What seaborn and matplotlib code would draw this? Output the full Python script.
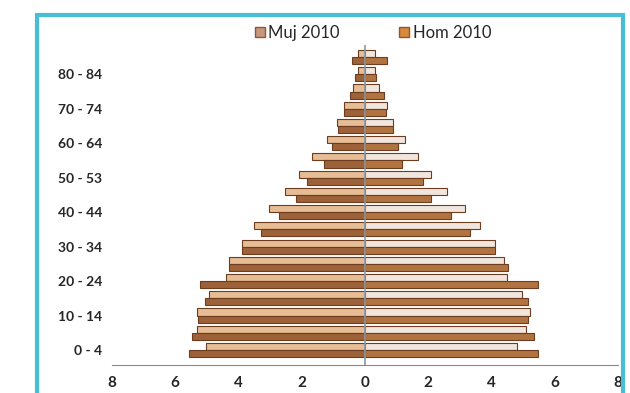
import numpy as np
import pandas as pd
import seaborn as sns
import matplotlib.pyplot as plt
from matplotlib.patches import Rectangle, Patch

# age groups, bottom to top
ages = ["0 - 4", "5 - 9", "10 - 14", "15 - 19", "20 - 24", "25 - 29", "30 - 34",
        "35 - 39", "40 - 44", "45 - 49", "50 - 53", "55 - 59", "60 - 64",
        "65 - 69", "70 - 74", "75 - 79", "80 - 84", "85 +"]

# left side of the pyramid (drawn as negative)
left_muj = [5.03, 5.32, 5.32, 4.92, 4.41, 4.30, 3.90, 3.51, 3.02, 2.54,
            2.10, 1.67, 1.21, 0.90, 0.66, 0.39, 0.23, 0.23]
left_hom = [5.58, 5.48, 5.28, 5.05, 5.23, 4.30, 3.90, 3.28, 2.72, 2.17,
            1.83, 1.30, 1.03, 0.85, 0.66, 0.47, 0.32, 0.41]

# right side of the pyramid
right_muj = [4.82, 5.10, 5.21, 4.98, 4.49, 4.39, 4.12, 3.65, 3.15, 2.60,
             2.10, 1.68, 1.26, 0.90, 0.71, 0.43, 0.32, 0.32]
right_hom = [5.46, 5.34, 5.16, 5.16, 5.46, 4.52, 4.12, 3.33, 2.73, 2.10,
             1.83, 1.17, 1.03, 0.88, 0.67, 0.59, 0.35, 0.69]

series = ["Muj 2010", "Hom 2010"]
xticks = [-8, -6, -4, -2, 0, 2, 4, 6, 8]

df_left = pd.DataFrame({"edad": ages * 2,
                        "serie": [series[0]] * len(ages) + [series[1]] * len(ages),
                        "valor": [-v for v in left_muj] + [-v for v in left_hom]})
df_right = pd.DataFrame({"edad": ages * 2,
                         "serie": [series[0]] * len(ages) + [series[1]] * len(ages),
                         "valor": right_muj + right_hom})

sns.set_style("white")
plt.rcParams["font.family"] = ["Lato", "DejaVu Sans"]

fig = plt.figure(figsize=(6.3, 3.93), dpi=100)
ax = fig.add_axes([112 / 630, 1 - 365 / 393, (618 - 112) / 630, (365 - 45) / 393])

order = ages[::-1]
sns.barplot(data=df_left, x="valor", y="edad", hue="serie", order=order,
            hue_order=series, orient="h", width=0.82, ax=ax,
            palette={"Muj 2010": "#f4bd86", "Hom 2010": "#ad5f29"},
            edgecolor="#6e3c1e", linewidth=0.8, legend=False)
sns.barplot(data=df_right, x="valor", y="edad", hue="serie", order=order,
            hue_order=series, orient="h", width=0.82, ax=ax,
            palette={"Muj 2010": "#f4e5db", "Hom 2010": "#c4722e"},
            edgecolor="#6e3c1e", linewidth=0.8, legend=False)

ax.set_xlim(-8, 8)
ax.set_ylim(len(ages) - 1 + 0.87, -0.7)
ax.axvline(0, color="#8a9aa6", lw=1.2, zorder=5)

ax.set_xticks(xticks)
ax.set_xticklabels([str(abs(t)) for t in xticks], fontsize=11, fontweight="bold")
ax.set_yticks(range(len(order)))
ax.set_yticklabels([a if (len(order) - 1 - i) % 2 == 0 else "" for i, a in enumerate(order)],
                   fontsize=10, fontweight="bold")
ax.tick_params(axis="y", length=0, pad=7)
ax.tick_params(axis="x", direction="inout", length=6, color="#8a8a8a", pad=5)
ax.set_xlabel("")
ax.set_ylabel("")
for s in ["top", "right", "left"]:
    ax.spines[s].set_visible(False)
ax.spines["bottom"].set_color("#8a8a8a")

handles = [Patch(facecolor="#c9967c", edgecolor="#8a5a40", label="Muj 2010"),
           Patch(facecolor="#d9893c", edgecolor="#8a5a30", label="Hom 2010")]
fig.legend(handles=handles, loc="center", bbox_to_anchor=(0.592, 0.916), ncol=2,
           frameon=False, fontsize=12, handlelength=0.6, handleheight=0.6,
           handletextpad=0.2, columnspacing=3.6)

fig.patches.append(Rectangle((37 / 630, -0.05), (623 - 37) / 630, 1.012,
                             transform=fig.transFigure, fill=False,
                             edgecolor="#46bfd6", lw=3))

fig.savefig("out.png", dpi=100)
